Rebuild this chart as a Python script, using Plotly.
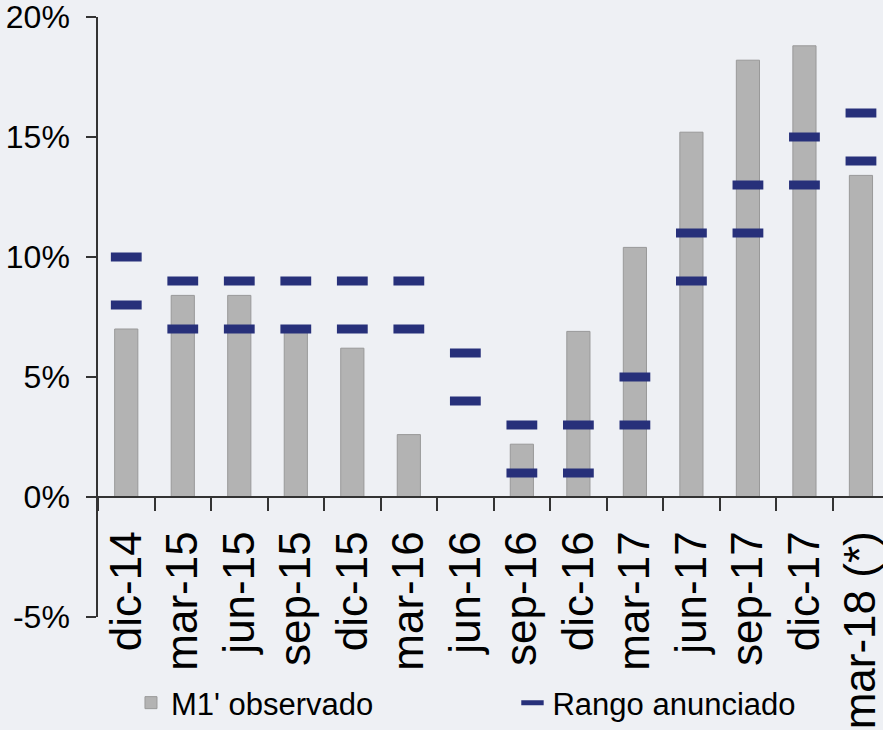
import plotly.graph_objects as go

categories = ["dic-14", "mar-15", "jun-15", "sep-15", "dic-15", "mar-16", "jun-16",
              "sep-16", "dic-16", "mar-17", "jun-17", "sep-17", "dic-17", "mar-18 (*)"]
m1_observado = [7.0, 8.4, 8.4, 6.9, 6.2, 2.6, None, 2.2, 6.9, 10.4, 15.2, 18.2, 18.8, 13.4]
rango_inf = [8, 7, 7, 7, 7, 7, 4, 1, 1, 3, 9, 11, 13, 14]
rango_sup = [10, 9, 9, 9, 9, 9, 6, 3, 3, 5, 11, 13, 15, 16]
y_ticks = [-5, 0, 5, 10, 15, 20]
y_tick_labels = ["-5%", "0%", "5%", "10%", "15%", "20%"]

font_family = "Liberation Sans, Arial, sans-serif"
bg = "#eef0f4"

fig = go.Figure()
fig.add_trace(go.Bar(
    x=categories, y=m1_observado, name="M1' observado",
    width=0.41, legend="legend",
    marker=dict(color="#b3b3b3", line=dict(color="#999999", width=1)),
))
range_x = categories + categories
range_y = rango_inf + rango_sup
fig.add_trace(go.Scatter(
    x=range_x, y=range_y, mode="markers", name="Rango anunciado", legend="legend2",
    marker=dict(symbol="line-ew", size=22, color="#27307a",
                line=dict(color="#27307a", width=9)),
))

legend_font = dict(family=font_family, size=31, color="#000000")
fig.update_layout(
    width=883, height=730,
    margin=dict(l=98, r=0, t=17, b=113),
    paper_bgcolor=bg,
    plot_bgcolor="rgba(0,0,0,0)",
    showlegend=True,
    legend=dict(orientation="h", x=0.042, xanchor="left", yref="container",
                y=-0.009, yanchor="bottom",
                font=legend_font, bgcolor="rgba(0,0,0,0)"),
    legend2=dict(orientation="h", x=0.528, xanchor="left", yref="container",
                 y=-0.009, yanchor="bottom",
                 font=legend_font, bgcolor="rgba(0,0,0,0)", itemsizing="trace"),
)
fig.update_xaxes(
    type="category", range=[-0.5, 13.39],
    anchor="free", position=0.2, automargin=False,
    showline=True, linecolor="#333333", linewidth=1.5,
    ticks="outside", tickson="boundaries", ticklen=13, tickcolor="#333333", tickwidth=1.5,
    tickangle=-90, tickfont=dict(family=font_family, size=44, color="#000000"),
    showgrid=False, zeroline=False, ticklabelstandoff=16,
    ticklabeloverflow="allow",
)
fig.update_yaxes(
    range=[-5, 20], tickvals=y_ticks, ticktext=y_tick_labels, automargin=False,
    showline=True, linecolor="#333333", linewidth=1.5,
    ticks="outside", ticklen=10, tickcolor="#333333", tickwidth=1.5,
    tickfont=dict(family=font_family, size=32, color="#000000"),
    showgrid=False, zeroline=False, ticklabelstandoff=10,
    ticklabeloverflow="allow",
)

fig.write_html(
    "out.html",
    config={"displayModeBar": False},
    post_script="document.body.style.margin='0';document.body.style.background='%s';"
                "document.body.style.overflow='hidden';" % bg,
)
